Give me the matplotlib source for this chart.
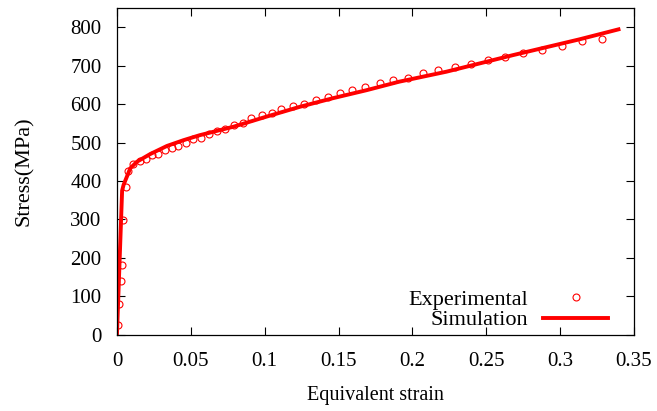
import numpy as np
import matplotlib
matplotlib.use('Agg')
import matplotlib.pyplot as plt

plt.rcParams['font.family'] = ['Liberation Serif', 'DejaVu Serif']

# experimental points (strain, stress MPa)
exp_strain = [0.0004, 0.0016, 0.003, 0.0034, 0.004, 0.006, 0.0078, 0.0112, 0.0153,
              0.0196, 0.0236, 0.028, 0.0326, 0.037, 0.0415, 0.0468, 0.0518, 0.057,
              0.062, 0.0676, 0.0732, 0.0793, 0.085, 0.091, 0.098, 0.105, 0.111,
              0.119, 0.1266, 0.1345, 0.1426, 0.151, 0.159, 0.168, 0.178, 0.187,
              0.197, 0.207, 0.217, 0.2285, 0.2395, 0.251, 0.263, 0.275, 0.2878,
              0.301, 0.3146, 0.328]
exp_stress = [26, 80, 141, 183, 298, 384, 426, 443, 452,
              457, 467, 469, 480, 485, 492, 500, 508, 511,
              521, 531, 535, 545, 551, 563, 571, 577, 586,
              595, 601, 610, 619, 628, 636, 645, 654, 662,
              668, 680, 688, 695, 704, 714, 723, 733, 741,
              752, 763, 770]

# simulation curve
sim_strain = [0.0, 0.0035, 0.0045, 0.009, 0.0135, 0.0225, 0.0338, 0.045, 0.056,
              0.0788, 0.101, 0.124, 0.146, 0.169, 0.191, 0.223, 0.268, 0.313, 0.3395]
sim_stress = [0, 375, 390, 433, 450, 470, 491, 506, 519,
              541, 567, 593, 615, 636, 658, 684, 727, 768, 794]

fig = plt.figure(figsize=(6.57, 4.11), dpi=100)
ax = fig.add_axes([0.178, 0.185, 0.787, 0.796])

ax.plot(exp_strain, exp_stress, 'o', color='red', markerfacecolor='none',
        markersize=5, markeredgewidth=0.8, label='Experimental')
ax.plot(sim_strain, sim_stress, '-', color='red', linewidth=2.8, label='Simulation')

ax.set_xlim(0, 0.35)
ax.set_ylim(0, 850)
ax.set_xticks(np.arange(0, 0.351, 0.05))
ax.set_xticklabels(['0', '0.05', '0.1', '0.15', '0.2', '0.25', '0.3', '0.35'])
ax.set_yticks(np.arange(0, 801, 100))
ax.tick_params(direction='in', top=True, right=True, length=6, width=0.8,
               labelsize=15)
ax.tick_params(axis='x', pad=12)
ax.tick_params(axis='y', pad=11)
for s in ax.spines.values():
    s.set_linewidth(0.9)

ax.set_xlabel('Equivalent strain', fontsize=14.5, labelpad=11)
ax.set_ylabel('Stress(MPa)', fontsize=16, labelpad=26)

ax.legend(loc='lower right', frameon=False, markerfirst=False, fontsize=16,
          handlelength=2.9, handletextpad=0.7, labelspacing=0.0,
          borderaxespad=0.2, bbox_to_anchor=(0.975, -0.027))

fig.savefig('out.png', dpi=100)
